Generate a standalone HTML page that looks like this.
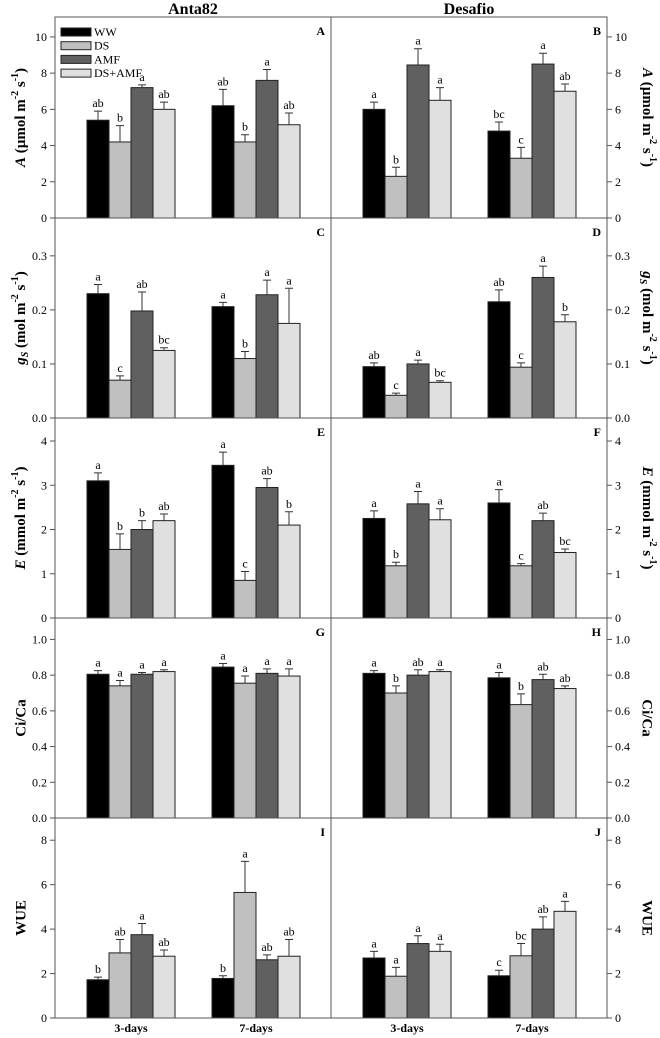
<!DOCTYPE html>
<html><head><meta charset="utf-8"><style>
body{margin:0;background:#fff}
svg{display:block;font-family:"Liberation Serif",serif}
</style></head><body>
<svg id="c" width="660" height="1038" viewBox="0 0 660 1038"></svg>
<script>
const groups = ["3-days","7-days"];
const treatments = ["WW","DS","AMF","DS+AMF"];
const colors = ["#000000","#c0c0c0","#606060","#e0e0e0"];
const cultivars = ["Anta82","Desafio"];
// values[cultivar][group][treatment]
const aVals = [[[5.4,4.2,7.2,6.0],[6.2,4.2,7.6,5.15]],[[6.0,2.3,8.45,6.5],[4.8,3.3,8.5,7.0]]];
const aErr  = [[[0.5,0.9,0.15,0.4],[0.9,0.4,0.6,0.65]],[[0.4,0.5,0.9,0.7],[0.5,0.6,0.6,0.4]]];
const aLet  = [[["ab","b","a","ab"],["ab","b","a","ab"]],[["a","b","a","a"],["bc","c","a","ab"]]];
const gVals = [[[0.23,0.07,0.198,0.125],[0.206,0.11,0.228,0.175]],[[0.095,0.042,0.1,0.066],[0.215,0.094,0.26,0.178]]];
const gErr  = [[[0.017,0.008,0.035,0.005],[0.008,0.013,0.027,0.065]],[[0.007,0.004,0.007,0.003],[0.022,0.008,0.021,0.013]]];
const gLet  = [[["a","c","ab","bc"],["a","b","a","a"]],[["ab","c","a","bc"],["ab","c","a","b"]]];
const eVals = [[[3.1,1.55,2.0,2.2],[3.45,0.85,2.95,2.1]],[[2.25,1.18,2.58,2.22],[2.6,1.18,2.2,1.48]]];
const eErr  = [[[0.18,0.35,0.2,0.15],[0.3,0.2,0.2,0.3]],[[0.17,0.08,0.28,0.25],[0.3,0.05,0.17,0.08]]];
const eLet  = [[["a","b","b","ab"],["a","c","ab","b"]],[["a","b","a","a"],["a","c","ab","bc"]]];
const cVals = [[[0.805,0.74,0.805,0.82],[0.845,0.755,0.81,0.795]],[[0.81,0.70,0.80,0.82],[0.785,0.635,0.775,0.725]]];
const cErr  = [[[0.02,0.03,0.01,0.01],[0.02,0.04,0.025,0.04]],[[0.015,0.04,0.03,0.01],[0.03,0.06,0.03,0.015]]];
const cLet  = [[["a","a","a","a"],["a","a","a","a"]],[["a","b","ab","a"],["a","b","ab","ab"]]];
const wVals = [[[1.72,2.93,3.75,2.78],[1.78,5.65,2.62,2.78]],[[2.7,1.88,3.35,3.0],[1.9,2.8,4.0,4.8]]];
const wErr  = [[[0.12,0.6,0.5,0.28],[0.12,1.4,0.22,0.75]],[[0.3,0.4,0.35,0.32],[0.25,0.55,0.55,0.45]]];
const wLet  = [[["b","ab","a","ab"],["b","a","ab","ab"]],[["a","a","a","a"],["c","bc","ab","a"]]];
const aTicks = ["0","2","4","6","8","10"];
const gTicks = ["0.0","0.1","0.2","0.3"];
const eTicks = ["0","1","2","3","4"];
const cTicks = ["0.0","0.2","0.4","0.6","0.8","1.0"];
const wTicks = ["0","2","4","6","8"];

const rows = [
 {vals:aVals,err:aErr,let:aLet,ticks:aTicks,max:11.1,letters:["A","B"],title:"A",y0:17,y1:218},
 {vals:gVals,err:gErr,let:gLet,ticks:gTicks,max:0.37,letters:["C","D"],title:"g",y0:218,y1:418},
 {vals:eVals,err:eErr,let:eLet,ticks:eTicks,max:4.52,letters:["E","F"],title:"E",y0:418,y1:618},
 {vals:cVals,err:cErr,let:cLet,ticks:cTicks,max:1.12,letters:["G","H"],title:"C",y0:618,y1:818},
 {vals:wVals,err:wErr,let:wLet,ticks:wTicks,max:9.0,letters:["I","J"],title:"W",y0:818,y1:1018}
];
const svg=document.getElementById('c');
const NS="http://www.w3.org/2000/svg";
function mk(tag,at,parent,txt){const e=document.createElementNS(NS,tag);for(const k in at)e.setAttribute(k,at[k]);if(txt!==undefined)e.textContent=txt;(parent||svg).appendChild(e);return e;}
const L=[55,331], W=276, BW=22, GOFF=[32,157];
cultivars.forEach((c,ci)=>{
  const t=mk('text',{x:L[ci]+W/2,y:14,'text-anchor':'middle','font-size':16,'font-weight':'bold'},svg,c);
  
  
});
rows.forEach((r,ri)=>{
  const H=r.y1-r.y0;
  const y=v=>r.y1-v/r.max*H;
  cultivars.forEach((c,ci)=>{
    const g=mk('g',{});
    
    
    groups.forEach((gr,gi)=>{
      treatments.forEach((tr,ti)=>{
        const v=r.vals[ci][gi][ti], e=r.err[ci][gi][ti];
        const x=L[ci]+GOFF[gi]+ti*BW;
        const b=mk('rect',{x:x,y:y(v),width:BW,height:r.y1-y(v),fill:colors[ti],stroke:'#222','stroke-width':1},g);
        
        
        const cx=x+BW/2, yt=y(v+e);
        mk('path',{d:`M${cx} ${y(v)}V${yt}M${cx-4} ${yt}H${cx+4}`,stroke:'#333','stroke-width':1,fill:'none'},g);
        const lt=mk('text',{x:cx,y:yt-4,'text-anchor':'middle','font-size':12},g,r.let[ci][gi][ti]);
        
        
      });
    });
    const pl=mk('text',{x:L[ci]+W-6,y:r.y0+18,'text-anchor':'end','font-size':12,'font-weight':'bold'},g,r.letters[ci]);
    
    
    // ticks
    const ax=ci==0?L[0]:L[1]+W;
    r.ticks.forEach(tk=>{
      const yy=y(parseFloat(tk));
      if(ci==0){mk('line',{x1:ax-5,x2:ax,y1:yy,y2:yy,stroke:'#555'},g);
        mk('text',{x:ax-8,y:yy+4,'text-anchor':'end','font-size':12},g,tk);}
      else{mk('line',{x1:ax,x2:ax+5,y1:yy,y2:yy,stroke:'#555'},g);
        mk('text',{x:ax+8,y:yy+4,'text-anchor':'start','font-size':12},g,tk);}
    });
  });
  // frame lines
  mk('line',{x1:L[0],x2:L[1]+W,y1:r.y1,y2:r.y1,stroke:'#555'});
  // y titles
  const cy=(r.y0+r.y1)/2;
  [[22,-90],[646,90]].forEach(([tx,rot],k)=>{
    const t=mk('text',{x:tx,y:cy,transform:`rotate(${rot} ${tx} ${cy})`,'text-anchor':'middle','font-size':15,'font-weight':'bold','dominant-baseline':'middle'});
    
    
    if(r.title=="A"){mk('tspan',{'font-style':'italic'},t,'A');mk('tspan',{},t,' (µmol m');mk('tspan',{'font-size':10,dy:-6},t,'-2');mk('tspan',{dy:6},t,' s');mk('tspan',{'font-size':10,dy:-6},t,'-1');mk('tspan',{dy:6},t,')');}
    else if(r.title=="g"){mk('tspan',{'font-style':'italic'},t,'g');mk('tspan',{'font-style':'italic','font-size':10,dy:4},t,'S');mk('tspan',{dy:-4},t,' (mol m');mk('tspan',{'font-size':10,dy:-6},t,'-2');mk('tspan',{dy:6},t,' s');mk('tspan',{'font-size':10,dy:-6},t,'-1');mk('tspan',{dy:6},t,')');}
    else if(r.title=="E"){mk('tspan',{'font-style':'italic'},t,'E');mk('tspan',{},t,' (mmol m');mk('tspan',{'font-size':10,dy:-6},t,'-2');mk('tspan',{dy:6},t,' s');mk('tspan',{'font-size':10,dy:-6},t,'-1');mk('tspan',{dy:6},t,')');}
    else if(r.title=="C"){t.textContent='Ci/Ca';}
    else t.textContent='WUE';
  });
});
const fr=mk('path',{d:`M${L[0]} 17H${L[1]+W}V1018H${L[0]}ZM${L[1]} 17V1018`,fill:'none',stroke:'#555'});


cultivars.forEach((c,ci)=>groups.forEach((gr,gi)=>{
  const t=mk('text',{x:L[ci]+GOFF[gi]+2*BW,y:1032,'text-anchor':'middle','font-size':12,'font-weight':'bold'},svg,gr);
  
  
}));
const lg=mk('g',{});


treatments.forEach((tr,ti)=>{
  const yy=28+ti*13.7;
  const r=mk('rect',{x:61,y:yy,width:30,height:8,fill:colors[ti],stroke:'#222'},lg);
  
  
  mk('text',{x:94,y:yy+8,'font-size':12},lg,tr);
});
</script>
</body></html>
